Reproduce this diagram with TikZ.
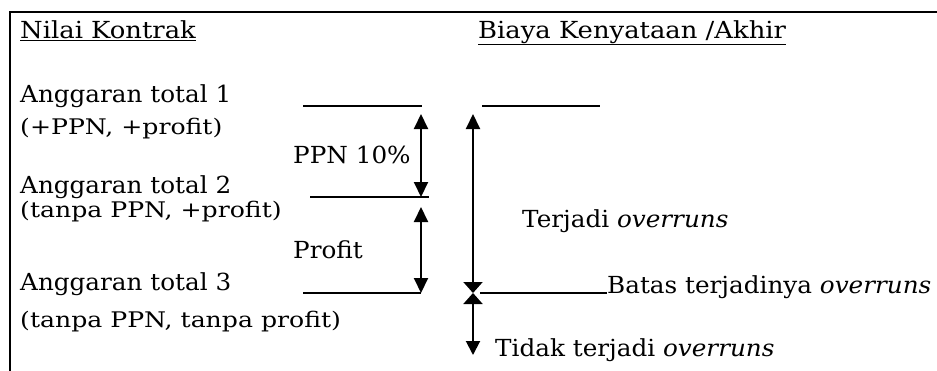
\documentclass[tikz,border=0pt]{standalone}
\usepackage{fontspec}
\setmainfont{DejaVu Serif}[FakeStretch=1.05]
\newfontfamily\headfont{DejaVu Serif}[FakeStretch=1.1]
\newfontfamily\notefont{DejaVu Serif}[FakeStretch=1.17]
\usetikzlibrary{arrows.meta}
\begin{document}
\begin{tikzpicture}[x=1pt,y=-1pt,
  lbl/.style={anchor=base west, inner sep=0pt, font=\fontsize{23.5}{27}\selectfont},
  head/.style={anchor=base west, inner sep=0pt, font=\headfont\fontsize{23.5}{27}\selectfont},
  sub/.style={anchor=base west, inner sep=0pt, font=\notefont\fontsize{21.5}{25}\selectfont},
  level/.style={line width=1.4pt},
  shaft/.style={line width=2pt},
  span/.style={shaft, {Triangle[length=15pt,width=14pt]}-{Triangle[length=15pt,width=14pt]}},
  upper/.style={shaft, {Triangle[length=15pt,width=14pt]}-{Triangle[length=11pt,width=19pt]}},
  lower/.style={shaft, {Triangle[length=11pt,width=19pt]}-{Triangle[length=14pt,width=14pt]}},
  frame/.style={line width=2.6pt}]
\useasboundingbox (0,0) rectangle (937,370);

% open frame: left and top edges
\draw[frame] (10,372) |- (939,12);

% column headings
\node[head] (nk) at (20,38) {\underline{Nilai Kontrak}};
\node[head] (bk) at (478,38) {\underline{Biaya Kenyataan /Akhir}};

% contract value levels
\node[lbl] (a1) at (20,102) {Anggaran total 1};
\node[sub] (a1s) at (20,134) {(+PPN, +profit)};
\node[lbl] (a2) at (20,193) {Anggaran total 2};
\node[sub] (a2s) at (20,217) {(tanpa PPN, +profit)};
\node[lbl] (a3) at (20,290) {Anggaran total 3};
\node[sub] (a3s) at (20,327) {(tanpa PPN, tanpa profit)};

\node[lbl] (ppn) at (293,163) {PPN 10\%};
\node[lbl] (pr) at (293,258) {Profit};

% level marks
\coordinate (l1a) at (303,106); \coordinate (l1b) at (422,106);
\coordinate (l2a) at (310,197); \coordinate (l2b) at (429,197);
\coordinate (l3a) at (303,293); \coordinate (l3b) at (421,293);
\coordinate (r1a) at (482,106); \coordinate (r1b) at (600,106);
\draw[level] (l1a) -- (l1b);
\draw[level] (l2a) -- (l2b);
\draw[level] (l3a) -- (l3b);
\draw[level] (r1a) -- (r1b);

% spans on the contract side
\coordinate (p1) at (421,114); \coordinate (p2) at (421,197);
\coordinate (q1) at (421,207); \coordinate (q2) at (421,293);
\draw[span] (p1) -- (p2);
\draw[span] (q1) -- (q2);

% actual cost side
\coordinate (t1) at (473,114); \coordinate (t2) at (473,293);
\coordinate (t3) at (473,355); \coordinate (bs) at (480,293);
\coordinate (bt) at (607,293);
\draw[upper] (t1) -- (t2);
\draw[lower] (t2) -- (t3);
\draw[level] (bs) -- (bt);

\node[lbl] (ter) at (522,227) {Terjadi \textit{overruns}};
\node[lbl] (bat) at (607,293) {Batas terjadinya \textit{overruns}};
\node[lbl] (tid) at (495,356) {Tidak terjadi \textit{overruns}};
\end{tikzpicture}
\end{document}
